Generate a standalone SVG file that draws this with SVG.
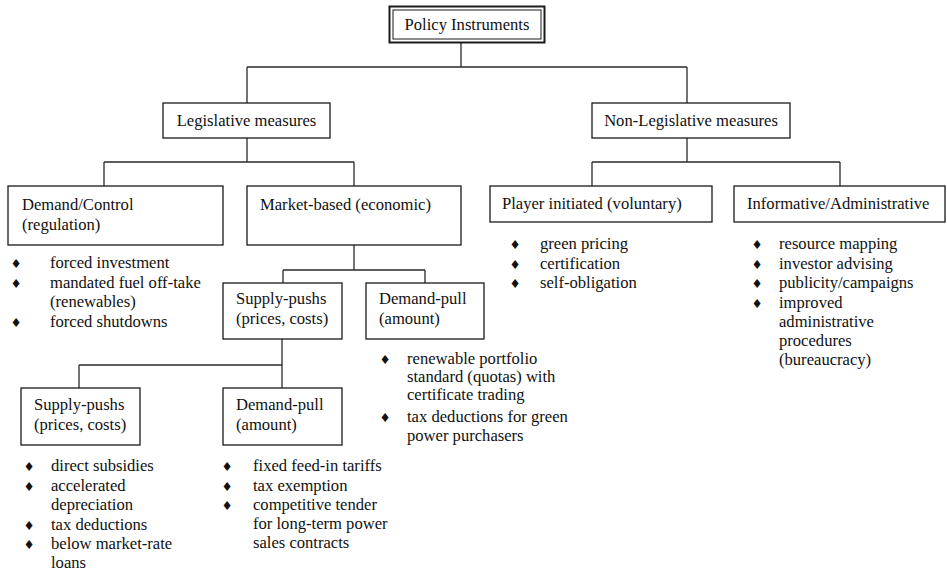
<svg xmlns="http://www.w3.org/2000/svg" width="947" height="572" viewBox="0 0 947 572">
<style>
text{font-family:"Liberation Serif","Times New Roman",serif;font-size:16.6px;fill:#111}
.b{font-family:"DejaVu Sans",sans-serif;font-size:12.5px;text-anchor:middle}
.box{fill:#fff;stroke:#1a1a1a;stroke-width:1.3}
.c{fill:none;stroke:#2a2a2a;stroke-width:1.3}
.mid{text-anchor:middle}
</style>
<g id="connectors">
<path class="c" d="M461,43V67M247,67H687M247,67V103M687,67V103"/>
<path class="c" d="M247,138V162M104,162H354M104,162V186M354,162V186"/>
<path class="c" d="M687,138V162M592,162H840M592,162V186M840,162V186"/>
<path class="c" d="M354,245V270M283,270H425M283,270V283M425,270V283"/>
<path class="c" d="M282,339V388M79,365H282M79,365V388"/>
</g>
<g id="policy">
<rect x="389.5" y="6.5" width="155" height="36" fill="#fff" stroke="#1a1a1a" stroke-width="2"/>
<rect x="393" y="10" width="148" height="29" fill="none" stroke="#1a1a1a" stroke-width="1"/>
<text x="467" y="30" class="mid">Policy Instruments</text>
</g>
<g id="legislative">
<rect class="box" x="163" y="103" width="167" height="35"/>
<text x="246.5" y="126" class="mid">Legislative measures</text>
</g>
<g id="nonlegislative">
<rect class="box" x="592" y="103" width="198" height="35"/>
<text x="691" y="126" class="mid">Non-Legislative measures</text>
</g>
<g id="demandcontrol">
<rect class="box" x="8" y="186" width="215" height="59"/>
<text x="22" y="210">Demand/Control</text>
<text x="22" y="230">(regulation)</text>
<text x="16" y="268" class="b">♦</text><text x="50" y="268">forced investment</text>
<text x="16" y="288" class="b">♦</text><text x="50" y="288">mandated fuel off-take</text>
<text x="50" y="307">(renewables)</text>
<text x="16" y="327" class="b">♦</text><text x="50" y="327">forced shutdowns</text>
</g>
<g id="marketbased">
<rect class="box" x="247" y="186" width="214" height="59"/>
<text x="260" y="210">Market-based (economic)</text>
</g>
<g id="playerinitiated">
<rect class="box" x="490" y="186" width="222" height="36"/>
<text x="502" y="209">Player initiated (voluntary)</text>
<text x="515" y="249" class="b">♦</text><text x="540" y="249">green pricing</text>
<text x="515" y="269" class="b">♦</text><text x="540" y="269">certification</text>
<text x="515" y="288" class="b">♦</text><text x="540" y="288">self-obligation</text>
</g>
<g id="informative">
<rect class="box" x="734" y="186" width="211" height="36"/>
<text x="747" y="209">Informative/Administrative</text>
<text x="757" y="249" class="b">♦</text><text x="779" y="249">resource mapping</text>
<text x="757" y="269" class="b">♦</text><text x="779" y="269">investor advising</text>
<text x="757" y="288" class="b">♦</text><text x="779" y="288">publicity/campaigns</text>
<text x="757" y="308" class="b">♦</text><text x="779" y="308">improved</text>
<text x="779" y="327">administrative</text>
<text x="779" y="346">procedures</text>
<text x="779" y="365">(bureaucracy)</text>
</g>
<g id="supplypush1">
<rect class="box" x="223" y="283" width="119" height="56"/>
<text x="236" y="304">Supply-pushs</text>
<text x="236" y="324">(prices, costs)</text>
</g>
<g id="demandpull1">
<rect class="box" x="366" y="283" width="118" height="56"/>
<text x="379" y="304">Demand-pull</text>
<text x="379" y="324">(amount)</text>
<text x="385" y="364" class="b">♦</text><text x="407" y="364">renewable portfolio</text>
<text x="407" y="382">standard (quotas) with</text>
<text x="407" y="400">certificate trading</text>
<text x="385" y="422" class="b">♦</text><text x="407" y="422">tax deductions for green</text>
<text x="407" y="441">power purchasers</text>
</g>
<g id="supplypush2">
<rect class="box" x="21" y="388" width="119" height="57"/>
<text x="34" y="410">Supply-pushs</text>
<text x="34" y="430">(prices, costs)</text>
<text x="29" y="471" class="b">♦</text><text x="51" y="471">direct subsidies</text>
<text x="29" y="491" class="b">♦</text><text x="51" y="491">accelerated</text>
<text x="51" y="510">depreciation</text>
<text x="29" y="530" class="b">♦</text><text x="51" y="530">tax deductions</text>
<text x="29" y="549" class="b">♦</text><text x="51" y="549">below market-rate</text>
<text x="51" y="568">loans</text>
</g>
<g id="demandpull2">
<rect class="box" x="223" y="388" width="119" height="57"/>
<text x="236" y="410">Demand-pull</text>
<text x="236" y="430">(amount)</text>
<text x="227" y="471" class="b">♦</text><text x="253" y="471">fixed feed-in tariffs</text>
<text x="227" y="491" class="b">♦</text><text x="253" y="491">tax exemption</text>
<text x="227" y="510" class="b">♦</text><text x="253" y="510">competitive tender</text>
<text x="253" y="529">for long-term power</text>
<text x="253" y="548">sales contracts</text>
</g>
</svg>
